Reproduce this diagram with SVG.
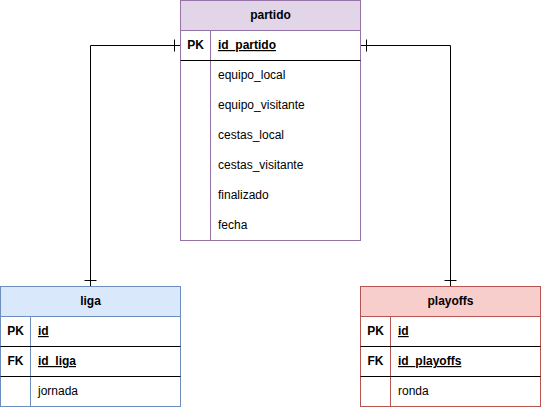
<svg xmlns="http://www.w3.org/2000/svg" width="541" height="407" viewBox="0 0 541 407">
<style>
text{font-family:"Liberation Sans",Arial,Helvetica,sans-serif;font-size:12px;fill:#000;}
.h{font-weight:bold;text-anchor:middle;}
.k{font-weight:bold;text-anchor:middle;}
.u{text-decoration:underline;font-weight:bold;}
.sep{stroke:#000;stroke-width:1;}
.con{fill:none;stroke:#000;stroke-width:1;}
</style>
<rect width="541" height="407" fill="#fff"/>
<g id="connectors">
<path class="con" d="M180.5 45.5 H90.5 V286.5"/>
<path class="con" d="M174.5 39.5 V51.5 M84.5 280.5 H96.5"/>
<path class="con" d="M360.5 45.5 H450.5 V286.5"/>
<path class="con" d="M366.5 39.5 V51.5 M444.5 280.5 H456.5"/>
</g>
<g id="partido">
<rect x="180.5" y="0.5" width="180" height="240" fill="#fff" stroke="#9673a6"/>
<rect x="180.5" y="0.5" width="180" height="30" fill="#e1d5e7" stroke="#9673a6"/>
<line x1="210.5" y1="30.5" x2="210.5" y2="240.5" stroke="#9673a6"/>
<line class="sep" x1="180.5" y1="60.5" x2="360.5" y2="60.5"/>
<text class="h" x="270.5" y="19">partido</text>
<text class="k" x="195.5" y="49">PK</text>
<text class="u" x="218" y="49">id_partido</text>
<text x="218" y="79">equipo_local</text>
<text x="218" y="109">equipo_visitante</text>
<text x="218" y="139">cestas_local</text>
<text x="218" y="169">cestas_visitante</text>
<text x="218" y="199">finalizado</text>
<text x="218" y="229">fecha</text>
</g>
<g id="liga">
<rect x="0.5" y="286.5" width="180" height="120" fill="#fff" stroke="#6c8ebf"/>
<rect x="0.5" y="286.5" width="180" height="30" fill="#dae8fc" stroke="#6c8ebf"/>
<line x1="30.5" y1="316.5" x2="30.5" y2="406.5" stroke="#6c8ebf"/>
<line class="sep" x1="0.5" y1="346.5" x2="180.5" y2="346.5"/>
<line class="sep" x1="0.5" y1="376.5" x2="180.5" y2="376.5"/>
<text class="h" x="90.5" y="305">liga</text>
<text class="k" x="15.5" y="335">PK</text>
<text class="u" x="38" y="335">id</text>
<text class="k" x="15.5" y="365">FK</text>
<text class="u" x="38" y="365">id_liga</text>
<text x="38" y="395">jornada</text>
</g>
<g id="playoffs">
<rect x="360.5" y="286.5" width="180" height="120" fill="#fff" stroke="#b85450"/>
<rect x="360.5" y="286.5" width="180" height="30" fill="#f8cecc" stroke="#b85450"/>
<line x1="390.5" y1="316.5" x2="390.5" y2="406.5" stroke="#b85450"/>
<line class="sep" x1="360.5" y1="346.5" x2="540.5" y2="346.5"/>
<line class="sep" x1="360.5" y1="376.5" x2="540.5" y2="376.5"/>
<text class="h" x="450.5" y="305">playoffs</text>
<text class="k" x="375.5" y="335">PK</text>
<text class="u" x="398" y="335">id</text>
<text class="k" x="375.5" y="365">FK</text>
<text class="u" x="398" y="365">id_playoffs</text>
<text x="398" y="395">ronda</text>
</g>
</svg>
